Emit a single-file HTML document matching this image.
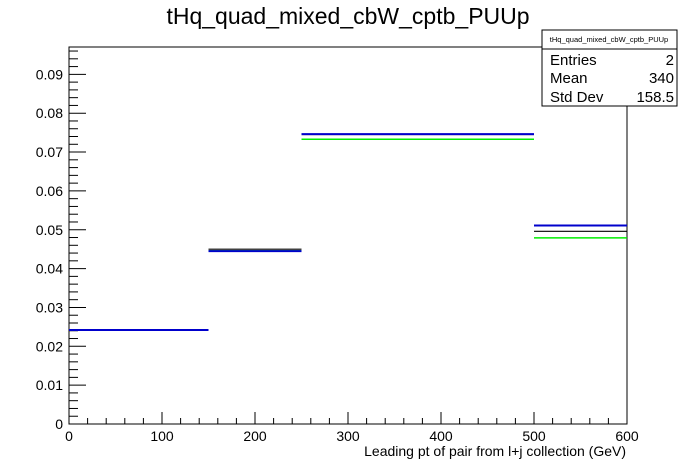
<!DOCTYPE html>
<html><head><meta charset="utf-8"><style>
body{margin:0;background:#fff;font-family:"Liberation Sans",sans-serif}
svg{display:block}
</style></head><body>
<svg id="c" width="696" height="472" font-family="Liberation Sans, sans-serif">
<text x="348" y="24" text-anchor="middle" font-size="23">tHq_quad_mixed_cbW_cptb_PUUp</text>
<rect x="69" y="47" width="558" height="377" fill="none" stroke="#000"/>
<g id="ax"></g><g id="marks"></g>
<text x="626" y="456" text-anchor="end" font-size="14">Leading pt of pair from l+j collection (GeV)</text>
<g>
<rect x="542" y="30" width="135" height="76" fill="#fff" stroke="#000"/>
<line x1="542" y1="49" x2="677" y2="49" stroke="#000"/>
<text x="609" y="42" text-anchor="middle" font-size="7.5">tHq_quad_mixed_cbW_cptb_PUUp</text>
<text x="550" y="65" font-size="15">Entries</text><text x="674" y="65" font-size="15" text-anchor="end">2</text>
<text x="550" y="83" font-size="15">Mean</text><text x="674" y="83" font-size="15" text-anchor="end">340</text>
<text x="550" y="102" font-size="15">Std Dev</text><text x="674" y="102" font-size="15" text-anchor="end">158.5</text>
</g>
</svg>
<script>
const binEdges=[0,150,250,500,600];
const nominal=[0.0242,0.0445,0.0746,0.0511];
const upVar=[0.0243,0.0450,0.0745,0.0496];
const greenVar=[0.0242,0.0446,0.0733,0.0479];
const xTicks=[0,100,200,300,400,500,600];
const yTicks=[0,0.01,0.02,0.03,0.04,0.05,0.06,0.07,0.08,0.09];
const NS="http://www.w3.org/2000/svg";
const X=v=>69+v*(558/600), Y=v=>424-v*3885;
function mk(t,a,p){const e=document.createElementNS(NS,t);for(const k in a)e.setAttribute(k,a[k]);p.appendChild(e);return e;}
const ax=document.getElementById('ax'), mg=document.getElementById('marks');
for(let v=0;v<=600;v+=20){const big=v%100===0;const l=mk('line',{x1:X(v),x2:X(v),y1:424,y2:424-(big?12:6),stroke:'#000'},ax);

}
xTicks.forEach(v=>{const t=mk('text',{x:X(v),y:441,'text-anchor':'middle','font-size':14},ax);t.textContent=v;

});
for(let i=0;i<=48;i++){const v=i*0.002;const big=i%5===0;if(Y(v)<47)break;const l=mk('line',{x1:69,x2:69+(big?17:9),y1:Y(v),y2:Y(v),stroke:'#000'},ax);

}
yTicks.forEach(v=>{const t=mk('text',{x:63,y:Y(v)+5,'text-anchor':'end','font-size':14},ax);t.textContent=v===0?'0':v.toFixed(2);

});
function series(vals,col,name,w){vals.forEach((v,i)=>{const l=mk('line',{x1:X(binEdges[i]),x2:X(binEdges[i+1]),y1:Y(v),y2:Y(v),stroke:col,'stroke-width':w},mg);

});}
series(greenVar,'#00ee00','green-variation',1.5);
series(upVar,'#000','black-variation',1.2);
series(nominal,'#0000cc','nominal',2);
</script>
</body></html>
